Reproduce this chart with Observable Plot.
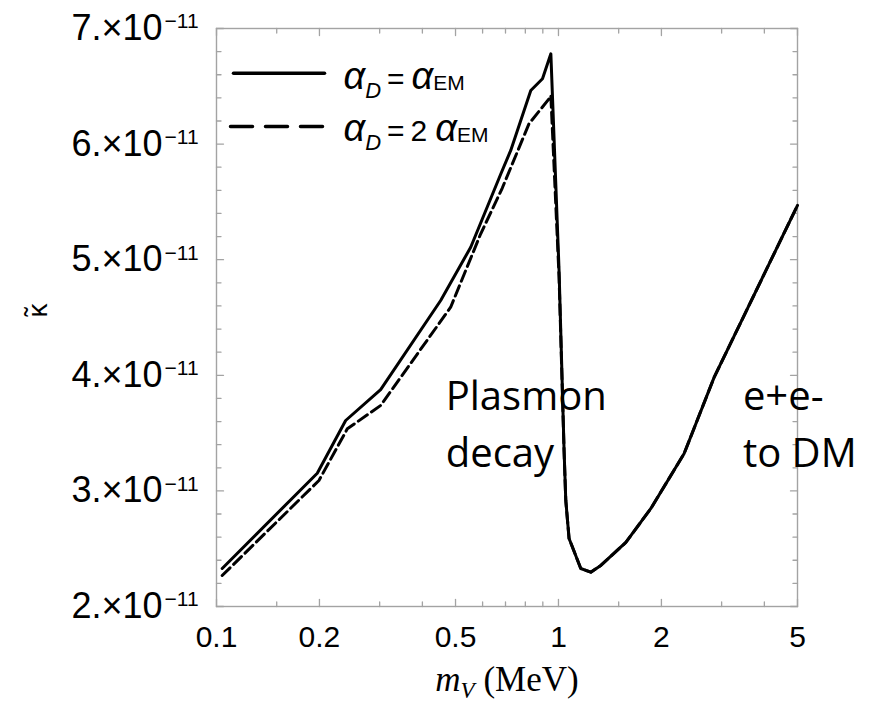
<!DOCTYPE html>
<html><head><meta charset="utf-8">
<script src="https://cdn.jsdelivr.net/npm/d3@7"></script>
<script src="https://cdn.jsdelivr.net/npm/@observablehq/plot@0.6"></script>
<style>body{margin:0;background:#fff}</style>
</head><body><div id="chart"></div>
<script>
const mSolid = [0.1039, 0.1971, 0.2386, 0.302, 0.4524, 0.5538, 0.68, 0.7251, 0.8299, 0.898, 0.950, 1.004, 1.0385, 1.0505, 1.074, 1.162, 1.243, 1.330, 1.574, 1.863, 2.331, 2.854, 5.0];
const kSolid = [2.329e-11, 3.153e-11, 3.609e-11, 3.876e-11, 4.647e-11, 5.108e-11, 5.75e-11, 5.945e-11, 6.464e-11, 6.565e-11, 6.781e-11, 4.907e-11, 3.349e-11, 2.917e-11, 2.588e-11, 2.329e-11, 2.297e-11, 2.355e-11, 2.554e-11, 2.848e-11, 3.324e-11, 3.984e-11, 5.47e-11];
const mDashed = [0.1039, 0.1993, 0.2413, 0.302, 0.4839, 0.5924, 0.685, 0.82, 0.9387, 0.950, 1.004, 1.0385, 1.0505, 1.074, 1.162, 1.243, 1.330, 1.574, 1.863, 2.331, 2.854, 5.0];
const kDashed = [2.268e-11, 3.09e-11, 3.537e-11, 3.739e-11, 4.589e-11, 5.224e-11, 5.62e-11, 6.176e-11, 6.392e-11, 6.42e-11, 4.85e-11, 3.34e-11, 2.917e-11, 2.588e-11, 2.329e-11, 2.297e-11, 2.355e-11, 2.554e-11, 2.848e-11, 3.324e-11, 3.984e-11, 5.47e-11];

const xTickLabels = [0.1, 0.2, 0.5, 1, 2, 5];
const xMinorTicks = [0.15, 0.3, 0.4, 0.6, 0.7, 0.8, 0.9, 1.5, 3, 4];
const yTickMantissas = [2, 3, 4, 5, 6, 7];
const yMinorMantissas = [2.2, 2.4, 2.6, 2.8, 3.2, 3.4, 3.6, 3.8, 4.2, 4.4, 4.6, 4.8, 5.2, 5.4, 5.6, 5.8, 6.2, 6.4, 6.6, 6.8];
const yExponent = -11;
const legendLabels = ["α_D = α_EM", "α_D = 2 α_EM"];
const annotationText = ["Plasmon\ndecay", "e+e-\nto DM"];
const annotationM = [0.468, 3.462];
const annotationK = [3.205e-11, 3.205e-11];

const solid = mSolid.map((m, i) => ({m, k: kSolid[i]}));
const dashed = mDashed.map((m, i) => ({m, k: kDashed[i]}));
const yMajor = yTickMantissas.map(d => d * 10 ** yExponent);
const yMinor = yMinorMantissas.map(d => d * 10 ** yExponent);
const annotations = annotationText.map((t, i) => ({t, m: annotationM[i], k: annotationK[i]}));

const frameColor = "#a3a3a3";
const lineShape = {draw(ctx, l) { ctx.moveTo(0, 0); ctx.lineTo(0, -l); }};
const tickStyle = {anchor: "start", shape: lineShape, stroke: frameColor, strokeWidth: 1.3};

const tickMarks = [
  Plot.vector(xTickLabels, {x: d => d, frameAnchor: "bottom", length: 7, rotate: 0, ...tickStyle}),
  Plot.vector(xMinorTicks, {x: d => d, frameAnchor: "bottom", length: 4.5, rotate: 0, ...tickStyle}),
  Plot.vector(xTickLabels, {x: d => d, frameAnchor: "top", length: 7, rotate: 180, ...tickStyle}),
  Plot.vector(xMinorTicks, {x: d => d, frameAnchor: "top", length: 4.5, rotate: 180, ...tickStyle}),
  Plot.vector(yMajor, {y: d => d, frameAnchor: "left", length: 7, rotate: 90, ...tickStyle}),
  Plot.vector(yMinor, {y: d => d, frameAnchor: "left", length: 4.5, rotate: 90, ...tickStyle}),
  Plot.vector(yMajor, {y: d => d, frameAnchor: "right", length: 7, rotate: -90, ...tickStyle}),
  Plot.vector(yMinor, {y: d => d, frameAnchor: "right", length: 4.5, rotate: -90, ...tickStyle})
];

const plot = Plot.plot({
  width: 877, height: 707,
  marginLeft: 216, marginRight: 80, marginTop: 28, marginBottom: 101,
  style: {fontFamily: "'Liberation Sans', Arial, sans-serif", background: "#fff", color: "#000", overflow: "visible"},
  x: {type: "log", domain: [0.1, 5]},
  y: {type: "linear", domain: [2e-11, 7e-11], axis: null},
  marks: [
    Plot.frame({stroke: frameColor, strokeWidth: 1.4}),
    ...tickMarks,
    Plot.axisX({anchor: "bottom", ticks: xTickLabels, tickSize: 0, tickPadding: 19, tickFormat: d => String(d), fontSize: 30, label: null, fill: "#000"}),
    Plot.text(yMajor, {y: d => d, frameAnchor: "left", dx: -54, textAnchor: "end", lineAnchor: "middle", text: d => `${Math.round(d / 10 ** yExponent)}.×10`, fontSize: 36, fill: "#000"}),
    Plot.text(yMajor, {y: d => d, frameAnchor: "left", dx: -52, textAnchor: "start", lineAnchor: "top", dy: -15, text: () => `\u2212${-yExponent}`, fontSize: 21, fill: "#000"}),
    Plot.text(["κ"], {frameAnchor: "left", dx: -178, rotate: -90, fontSize: 28, fill: "#000"}),
    Plot.text(["m_V (MeV)"], {frameAnchor: "bottom", dy: 84, lineAnchor: "bottom", fontFamily: "'Liberation Serif', 'Times New Roman', serif", fontSize: 35, fill: "#000"}),
    Plot.line(dashed, {x: "m", y: "k", stroke: "#000", strokeWidth: 3, strokeDasharray: "11,5"}),
    Plot.line(solid, {x: "m", y: "k", stroke: "#000", strokeWidth: 3}),
    Plot.vector([0], {frameAnchor: "top-left", dx: 17, dy: 44.7, length: 91, rotate: 90, anchor: "start", shape: lineShape, stroke: "#000", strokeWidth: 3.5}),
    Plot.vector([0], {frameAnchor: "top-left", dx: 14, dy: 98, length: 92, rotate: 90, anchor: "start", shape: lineShape, stroke: "#000", strokeWidth: 3.5, strokeDasharray: "22,13"}),
    Plot.text([legendLabels[0]], {frameAnchor: "top-left", dx: 127, dy: 60, textAnchor: "start", lineAnchor: "bottom", fontSize: 30, fill: "#000"}),
    Plot.text([legendLabels[1]], {frameAnchor: "top-left", dx: 127, dy: 112, textAnchor: "start", lineAnchor: "bottom", fontSize: 30, fill: "#000"}),
    Plot.text(annotations, {x: "m", y: "k", text: "t", textAnchor: "start", lineAnchor: "bottom", lineHeight: 1.42, fontFamily: "'Open Sans', sans-serif", fontSize: 40, fill: "#000"})
  ]
});
document.getElementById("chart").appendChild(plot);

function rich(content, parts) {
  const t = d3.select(plot).selectAll("text").filter(function() { return this.textContent === content; });
  t.text(null);
  for (const p of parts) {
    const s = t.append("tspan").text(p.t);
    if (p.italic) s.attr("font-style", "italic");
    if (p.size) s.attr("font-size", p.size);
    if (p.dx) s.attr("dx", p.dx);
    if (p.dy) s.attr("dy", p.dy);
  }
}
rich(legendLabels[0], [
  {t: "α", italic: true, size: 38},
  {t: "D", italic: true, size: 22, dy: 9},
  {t: "=", dx: 6, dy: -9},
  {t: "α", italic: true, size: 38, dx: 7},
  {t: "EM", size: 21, dy: 1}
]);
rich(legendLabels[1], [
  {t: "α", italic: true, size: 38},
  {t: "D", italic: true, size: 22, dy: 9},
  {t: "=", dx: 6, dy: -9},
  {t: "2", dx: 6},
  {t: "α", italic: true, size: 38, dx: 8},
  {t: "EM", size: 21, dy: 1}
]);
rich("m_V (MeV)", [
  {t: "m", italic: true},
  {t: "V", italic: true, size: 23, dy: 7},
  {t: " (MeV)", dy: -7}
]);
rich("κ", [
  {t: "κ"},
  {t: "˜", dx: -13, dy: -3}
]);
</script>
</body></html>
